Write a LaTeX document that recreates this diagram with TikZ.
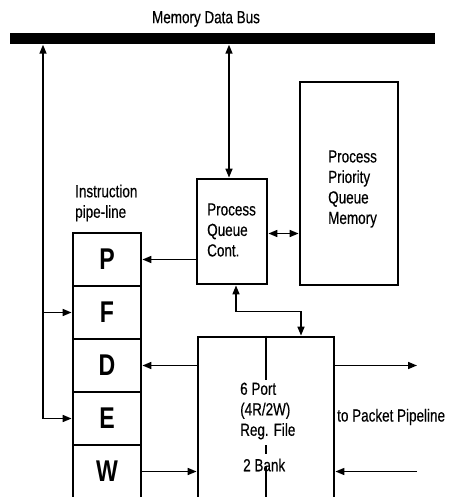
\documentclass[tikz,border=0pt]{standalone}
\usepackage{fontspec}
\setmainfont{Liberation Sans}[FakeStretch=0.77]
\newfontfamily\lblfont{Liberation Sans}[FakeStretch=0.77,FakeBold=0.4]
\usetikzlibrary{arrows.meta}
\begin{document}
\begin{tikzpicture}[x=1pt,y=-1pt,
  box/.style={draw,line width=2.8pt,inner sep=0pt},
  cell/.style={box,minimum width=68pt,minimum height=53pt,font=\fontsize{30}{30}\selectfont\bfseries},
  lbl/.style={font=\lblfont\fontsize{17.5}{20.5}\selectfont,align=left,inner sep=0pt},
  conn/.style={line width=1.6pt},
  arr/.style={conn,-{Triangle[length=9pt,width=7pt]}},
  darr/.style={conn,{Triangle[length=9pt,width=7pt]}-{Triangle[length=9pt,width=7pt]}}]
\useasboundingbox (0,0) rectangle (450,497);
\clip (0,0) rectangle (450,497);
% bus
\node[lbl,anchor=center] (bustitle) at (206,19) {Memory Data Bus};
\node[fill=black,minimum width=425pt,minimum height=11pt,inner sep=0pt] (bus) at (222.5,39) {};
% pipeline
\node[lbl,anchor=west] (iplabel) at (75,203) {Instruction\\pipe-line};
\node[cell] (P) at (107,259.5) {P};
\node[cell] (F) at (107,312.5) {F};
\node[cell] (D) at (107,365.5) {D};
\node[cell] (E) at (107,418.5) {E};
\node[cell] (W) at (107,471.5) {W};
% process queue controller
\node[box,minimum width=70pt,minimum height=105pt] (pqc) at (232,231.5) {};
\node[lbl,anchor=west] (pqctext) at (207,230) {Process\\Queue\\Cont.};
% priority queue memory
\node[box,minimum width=98pt,minimum height=203pt] (ppqm) at (349,183.5) {};
\node[lbl,anchor=west] (ppqmtext) at (328,189) {Process\\Priority\\Queue\\Memory};
% register file
\node[box,minimum width=136pt,minimum height=165pt] (rf) at (266,419.5) {};
\coordinate (mid1) at (266,380);
\coordinate (mid2) at (266,445);
\coordinate (mid3) at (266,454);
\coordinate (mid4) at (266,466);
\draw[line width=2pt] (rf.north) -- (mid1);
\draw[line width=2pt] (mid2) -- (mid3);
\draw[line width=2pt] (mid4) -- (rf.south);
\node[lbl,anchor=west] (rftext) at (240,411) {6 Port\\(4R/2W)\\Reg. File};
\node[lbl,anchor=west] (banktext) at (243,465) {2 Bank};
% connectors
\coordinate (lt) at (43,418.5);
\draw[arr] (lt) -- (lt |- bus.south);
\draw[arr] (lt |- F.west) -- (F.west);
\draw[arr] (lt) -- (E.west);
\draw[darr] ([xshift=-3pt]pqc.north) -- ([xshift=-3pt]pqc.north |- bus.south);
\draw[darr] ([yshift=-2pt]pqc.east) -- ([yshift=-2pt]pqc.east -| ppqm.west);
\draw[arr] (pqc.west |- P) -- (P.east);
\draw[darr] ([xshift=4pt]pqc.south) -- ++(0,26) -| ([xshift=35pt]rf.north);
\draw[arr] (rf.west |- D) -- (D.east);
\draw[arr] (W.east) -- (W -| rf.west);
\coordinate (out1) at (417,365.5);
\coordinate (in1) at (417,471.5);
\draw[arr] (rf.east |- out1) -- (out1);
\draw[arr] (in1) -- (in1 -| rf.east);
\node[lbl,anchor=west] (pkt) at (337,417) {to Packet Pipeline};
\end{tikzpicture}
\end{document}
